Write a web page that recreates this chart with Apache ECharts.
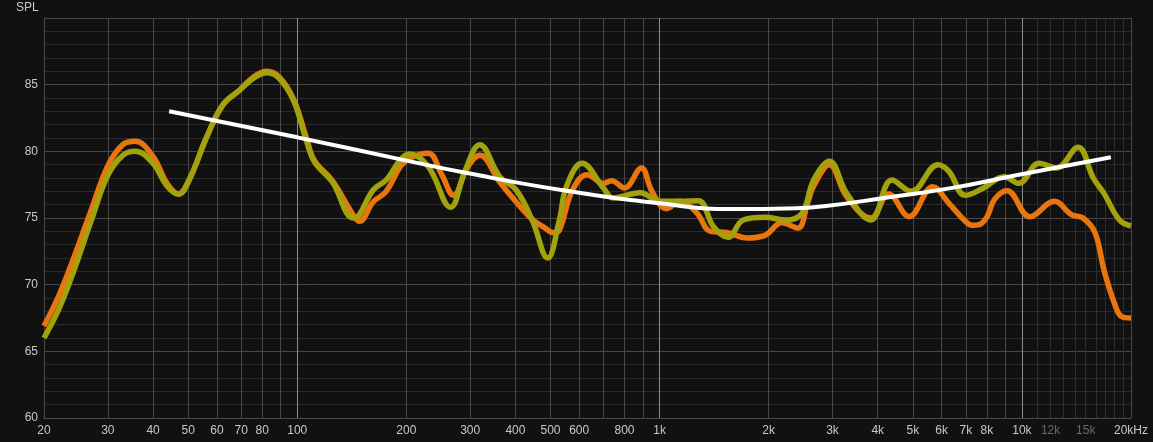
<!DOCTYPE html>
<html>
<head>
<meta charset="utf-8">
<script src="https://cdn.jsdelivr.net/npm/echarts@6/dist/echarts.min.js"></script>
<style>
html,body{margin:0;padding:0;background:#111111;}
#chart{width:1153px;height:442px;}
</style>
</head>
<body>
<div id="chart"></div>
<script>
// ---- data ----
const freqOrange = [20,22,24,27,30,33,35.7,40,43.7,47,50.4,56.3,62.4,69.4,75.9,82.4,89,97.7,106,111.6,125,142.8,148.4,162,176,193,205,230,250,270,295,319,362,402,445,480,509,529,575,631,700,737,800,891,945,1001,1044,1137,1200,1279,1380,1544,1738,1953,2174,2408,2560,2663,2940,3283,3828,4288,4883,5677,6289,6979,7278,7629,8014,8400,9094,10528,12290,13695,14747,15914,16844,18001,18852,20000];
const splOrange  = [66.9,69.2,71.8,75.6,78.9,80.5,80.75,79.6,77.6,76.8,77.9,81.1,83.5,84.6,85.6,86.0,85.6,83.9,81.0,79.3,77.8,75.2,74.75,76.2,77.0,78.9,79.5,79.85,78.3,76.7,78.8,79.7,77.7,76.2,74.9,74.3,73.9,74.1,77.1,78.25,77.6,77.8,77.25,78.75,77.2,76.0,75.7,76.25,76.0,75.25,74.0,73.9,73.5,73.7,74.65,74.25,76.1,77.4,79.0,76.6,75.0,76.8,75.1,77.35,76.1,74.75,74.45,74.5,75.1,76.4,77.05,75.1,76.25,75.25,75.0,73.9,71.1,68.6,67.6,67.5];

const freqOlive = [20,22,24,27,30,33,35.7,40,43.7,47,50.4,56.3,62.4,69.4,75.9,82.4,89,97.7,106,111.6,125,142.8,148,162,176,193,204,230,265,290,319,362,402,445,491,529,553,611,700,744,884,1001,1137,1279,1409,1544,1702,1953,2237,2471,2663,2940,3283,3828,4378,4946,5868,6289,6979,7833,8929,9806,11153,12452,14283,15740,16844,18586,20000];
const splOlive  = [66.0,68.2,70.8,74.8,78.2,79.7,80.0,79.1,77.4,76.8,77.9,81.1,83.5,84.6,85.5,85.9,85.5,83.8,80.8,79.2,77.7,75.0,75.2,77.1,77.85,79.4,79.8,78.85,75.8,78.5,80.5,78.1,77.1,74.85,72.0,74.85,77.35,79.1,77.25,76.5,76.9,76.25,76.25,76.3,74.35,73.55,74.85,75.05,74.85,75.35,77.85,79.25,76.85,74.85,77.85,77.0,79.0,78.5,76.7,77.25,78.1,77.6,79.1,78.75,80.3,78.0,76.85,74.85,74.4];

const freqTarget = [44.3,100,193,294,553,1001,1561,2383,2879,4160,6365,9806,17600];
const splTarget  = [83.0,81.05,79.4,78.37,77.04,76.1,75.67,75.74,75.9,76.5,77.24,78.24,79.56];

// ---- axis ticks ----
const xLabelValues = [20,30,40,50,60,70,80,100,200,300,400,500,600,800,1000,2000,3000,4000,5000,6000,7000,8000,10000,12000,15000,20000];
const xGridValues  = [20,30,40,50,60,70,80,90,200,300,400,500,600,700,800,900,2000,3000,4000,5000,6000,7000,8000,9000,20000];
const xDecadeValues = [100,1000,10000];
const xFineValues = [11000,12000,13000,14000,15000,16000,17000,18000,19000];
const dimLabels = [12000,15000];

function fmtFreq(v){
  if (v >= 20000) return '20kHz';
  if (v >= 1000) return (v/1000) + 'k';
  return String(v);
}

const zip = (f, s) => f.map((x, i) => [x, s[i]]);

const chart = echarts.init(document.getElementById('chart'), null, {renderer: 'canvas'});
const fontFam = '"Liberation Sans", Arial, sans-serif';

function hiddenX(values, color){
  return {
    type: 'log', logBase: 10, min: 20, max: 20000, position: 'bottom',
    axisLine: {show: false}, axisLabel: {show: false},
    axisTick: {show: false, customValues: values},
    splitLine: {show: true, lineStyle: {color: color, width: 1}}
  };
}

chart.setOption({
  backgroundColor: '#111111',
  animation: false,
  title: {
    text: 'SPL', left: 16, top: 2, padding: 0,
    textStyle: {color: '#c8c8c8', fontSize: 12, fontWeight: 'normal', fontFamily: fontFam}
  },
  grid: {left: 44, right: 22, top: 18, bottom: 24, containLabel: false},
  xAxis: [
    {
      type: 'log', logBase: 10, min: 20, max: 20000, position: 'bottom',
      axisLine: {show: true, lineStyle: {color: '#4a4a4a'}},
      axisTick: {show: false, customValues: xGridValues},
      axisLabel: {
        customValues: xLabelValues, color: '#c8c8c8', fontSize: 12, fontFamily: fontFam, margin: 7,
        formatter: function(v){
          const t = fmtFreq(v);
          return dimLabels.indexOf(v) >= 0 ? '{d|' + t + '}' : t;
        },
        rich: {d: {color: '#6a6a6a', fontSize: 12, fontFamily: fontFam}}
      },
      splitLine: {show: true, lineStyle: {color: '#484848', width: 1}}
    },
    hiddenX(xFineValues, '#2e2e2e'),
    hiddenX(xDecadeValues, '#8c8c8c')
  ],
  yAxis: {
    type: 'value', min: 60, max: 90, interval: 5,
    axisLine: {show: true, lineStyle: {color: '#4a4a4a'}},
    axisTick: {show: false},
    axisLabel: {
      color: '#c8c8c8', fontSize: 12, fontFamily: fontFam, margin: 6,
      formatter: v => (v >= 90 ? '' : String(v))
    },
    splitLine: {show: true, lineStyle: {color: '#484848', width: 1}},
    minorTick: {show: false, splitNumber: 5},
    minorSplitLine: {show: true, lineStyle: {color: '#2a2a2a', width: 1}}
  },
  series: [
    {
      name: 'orange', type: 'line', xAxisIndex: 0, data: zip(freqOrange, splOrange),
      smooth: 0.4, showSymbol: false, symbol: 'none',
      lineStyle: {color: '#e8750e', width: 5.5}, z: 3
    },
    {
      name: 'olive', type: 'line', xAxisIndex: 0, data: zip(freqOlive, splOlive),
      smooth: 0.4, showSymbol: false, symbol: 'none',
      lineStyle: {color: '#a2a20c', width: 5.5}, z: 4
    },
    {
      name: 'target', type: 'line', xAxisIndex: 0, data: zip(freqTarget, splTarget),
      smooth: 0.5, showSymbol: false, symbol: 'none',
      lineStyle: {color: '#ffffff', width: 4}, z: 5
    }
  ]
});
</script>
</body>
</html>
